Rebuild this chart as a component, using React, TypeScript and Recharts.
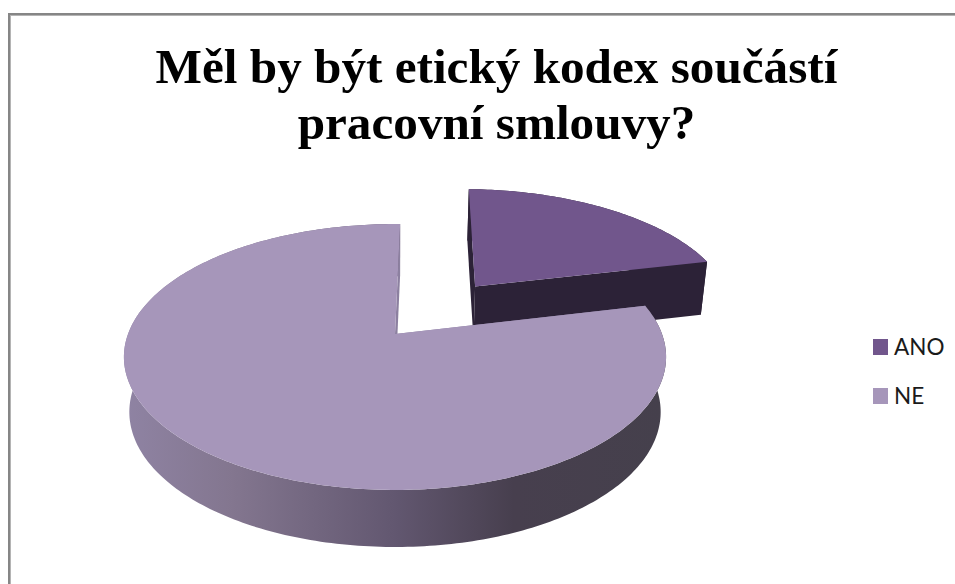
import { Legend, Pie, PieChart } from "recharts";

const categories = ["ANO", "NE"];
const shares = [21, 79];
const topColors = ["#71568c", "#a696ba"];
const rimColors = ["#2c2237", "url(#rimShade)"];
const cutColors = ["#2c2237", "#8c80a0"];
const titleLines = ["Měl by být etický kodex součástí", "pracovní smlouvy?"];

const rows = categories.map((name, i) => ({
    name,
    value: shares[i],
    fill: topColors[i],
    rim: rimColors[i],
    cut: cutColors[i],
}));

const WIDTH = 955;
const HEIGHT = 584;

// tilted-disc projection: flatten the circle, far side smaller than near side
const FLATTEN = 0.483;
const PERSPECTIVE = 0.173;
const THICKNESS = 54.5;
const EXPLODE = 0.508;

const RAD = Math.PI / 180;

interface Pt {
    x: number;
    y: number;
}

function project(cx: number, cy: number, r: number, u: number, v: number, low: boolean): Pt {
    const d = 1 + PERSPECTIVE * v;
    const x = (r * u) / d;
    const y = (r * FLATTEN * v) / d;
    if (!low) return { x: cx + x, y: cy - y };
    // bottom rim sits a little further from the camera
    return { x: cx + x * 0.98, y: cy - y + THICKNESS / (1 + 0.045 * v) };
}

function toPath(points: Pt[]) {
    return points.map((p, i) => `${i ? "L" : "M"}${p.x.toFixed(2)} ${p.y.toFixed(2)}`).join(" ") + " Z";
}

function Slice3D(props: any) {
    const { cx, cy, outerRadius, startAngle, endAngle, name, fill, payload } = props;
    const mid = ((startAngle + endAngle) / 2) * RAD;
    const off = name === "ANO" ? EXPLODE : 0;
    const ou = off * Math.cos(mid);
    const ov = off * Math.sin(mid);

    const steps = Math.ceil(Math.abs(startAngle - endAngle));
    const arc = (low: boolean) => {
        const pts: Pt[] = [];
        for (let i = 0; i <= steps; i++) {
            const a = (startAngle + ((endAngle - startAngle) * i) / steps) * RAD;
            pts.push(project(cx, cy, outerRadius, ou + Math.cos(a), ov + Math.sin(a), low));
        }
        return pts;
    };
    const hubTop = project(cx, cy, outerRadius, ou, ov, false);
    const hubLow = project(cx, cy, outerRadius, ou, ov, true);
    const top = arc(false);
    const low = arc(true);

    return (
        <g>
            <path d={toPath([...top, ...low.slice().reverse()])} fill={payload.rim} />
            <path d={toPath([hubTop, top[0], low[0], hubLow])} fill={payload.cut} />
            <path d={toPath([hubTop, top[top.length - 1], low[low.length - 1], hubLow])} fill={payload.cut} />
            <path d={toPath([hubTop, ...top])} fill={fill} />
        </g>
    );
}

function LegendList({ payload }: any) {
    return (
        <div>
            {(payload || []).map((entry: any) => (
                <div key={entry.value} style={{ display: "flex", alignItems: "center", height: 49 }}>
                    <span style={{ width: 15, height: 16, background: entry.color, marginRight: 6 }} />
                    <span style={{ fontFamily: "Lato", fontSize: 22.5, color: "#1a1a1a" }}>{entry.value}</span>
                </div>
            ))}
        </div>
    );
}

export default function App() {
    return (
        <div style={{ position: "absolute", left: 0, top: 0, width: WIDTH, height: HEIGHT, background: "#fff", overflow: "hidden" }}>
            {/* frame runs off the right and bottom edges */}
            <div
                style={{
                    position: "absolute",
                    left: 8,
                    top: 13,
                    width: 970,
                    height: 600,
                    border: "2px solid #868686",
                    boxShadow: "inset 0 0 0 1px #b4b4b4",
                }}
            />
            <div
                style={{
                    position: "absolute",
                    left: 0,
                    top: 39,
                    width: 993,
                    textAlign: "center",
                    fontFamily: "'Liberation Serif'",
                    fontWeight: "bold",
                    fontSize: 49.2,
                    lineHeight: "56px",
                    color: "#000",
                }}
            >
                {titleLines.map((line) => (
                    <div key={line}>{line}</div>
                ))}
            </div>
            <PieChart
                width={WIDTH}
                height={HEIGHT}
                margin={{ top: 0, right: 0, bottom: 0, left: 0 }}
                style={{ position: "absolute", left: 0, top: 0 }}
            >
                <defs>
                    <linearGradient id="rimShade" gradientUnits="userSpaceOnUse" x1={125} y1={0} x2={665} y2={0}>
                        <stop offset="0" stopColor="#8f83a3" />
                        <stop offset="0.2" stopColor="#83768f" />
                        <stop offset="0.5" stopColor="#625770" />
                        <stop offset="0.72" stopColor="#473f4e" />
                        <stop offset="1" stopColor="#45404c" />
                    </linearGradient>
                </defs>
                <Pie
                    data={rows}
                    dataKey="value"
                    nameKey="name"
                    cx={395}
                    cy={334}
                    innerRadius={0}
                    outerRadius={267}
                    startAngle={88.7}
                    endAngle={-271.3}
                    stroke="none"
                    shape={Slice3D}
                    isAnimationActive={false}
                />
                <Legend
                    layout="vertical"
                    align="right"
                    verticalAlign="top"
                    content={<LegendList />}
                    wrapperStyle={{ left: 873, top: 322, width: 80 }}
                />
            </PieChart>
        </div>
    );
}
